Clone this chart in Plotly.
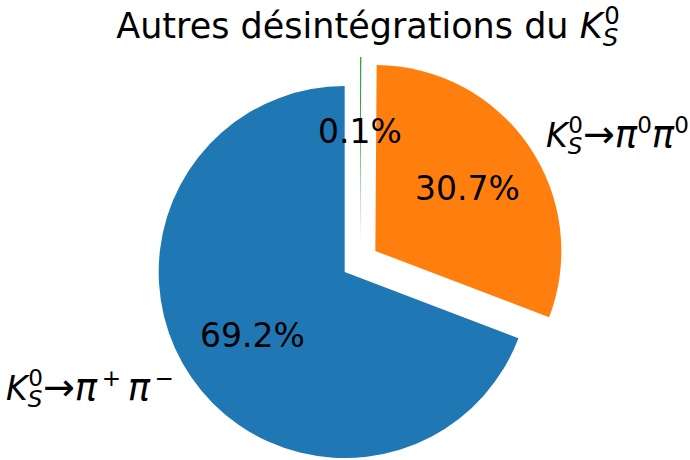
import math
import plotly.graph_objects as go

# ---- data ----
KS = ('<i>K</i><sub><span style="font-style:italic;letter-spacing:-14px">S</span></sub>'
      '<sup>0</sup>')
ARROW = '<span style="font-size:38px">→</span>'
PI = '<span style="font-style:italic;font-size:37px">π</span>'
slice_ids = ["pipm", "pi0pi0", "autres"]
slice_names = [
    KS + ARROW + PI + "<sup>\u2009+</sup>\u2009" + PI + "<sup>\u2009−</sup>",
    KS + ARROW + PI + "<sup>0</sup>" + PI + "<sup>0</sup>",
    "",
]
branching = [69.20, 30.69, 0.11]
explode = [0.1, 0.1, 0.1]
colors = ["#1f77b4", "#ff7f0e", "#2ca02c"]
title_text = "Autres désintégrations du " + KS

# ---- layout geometry (pixels) ----
W, H = 690, 460
CX, CY = 360.0, 261.5   # pie centre (px, from top)
R = 186.0               # pie radius (px)
START = 90.0            # start angle (deg, math convention), counterclockwise
PCTDIST, LABDIST = 0.6, 1.1
FONT = dict(family="DejaVu Sans", size=33, color="black")
TITLE_FONT = dict(family="DejaVu Sans", size=35, color="black")

total = sum(branching)
# plotly (counterclockwise mode) lays the first slice clockwise from `rotation`
first_span = 360.0 * branching[0] / total
rotation = (90.0 - START) + 360.0 - first_span

fig = go.Figure()
annotations = []
theta = START
for i, v in enumerate(branching):
    span = 360.0 * v / total
    tm = math.radians(theta + span / 2.0)
    theta += span
    vx = CX + explode[i] * R * math.cos(tm)
    vy = CY - explode[i] * R * math.sin(tm)
    fig.add_trace(go.Pie(
        labels=slice_ids,
        values=branching,
        sort=False,
        direction="counterclockwise",
        rotation=rotation,
        marker=dict(colors=[colors[j] if j == i else "rgba(0,0,0,0)" for j in range(len(branching))],
                    line=dict(width=0)),
        textinfo="none",
        hoverinfo="skip",
        showlegend=False,
        domain=dict(x=[(vx - R) / W, (vx + R) / W],
                    y=[(H - vy - R) / H, (H - vy + R) / H]),
    ))
    # percentage label
    px = vx + PCTDIST * R * math.cos(tm)
    py = vy - PCTDIST * R * math.sin(tm)
    annotations.append(dict(x=px / W, y=1 - py / H, xref="paper", yref="paper",
                            text=f"{100 * v / total:.1f}%", showarrow=False,
                            xanchor="center", yanchor="middle", font=FONT))
    if slice_names[i]:
        lx = vx + LABDIST * R * math.cos(tm)
        ly = vy - LABDIST * R * math.sin(tm)
        annotations.append(dict(x=lx / W, y=1 - ly / H, xref="paper", yref="paper",
                                text=slice_names[i], showarrow=False,
                                xanchor="right" if math.cos(tm) < 0 else "left",
                                yanchor="middle", font=FONT))

fig.update_layout(
    width=W, height=H,
    margin=dict(l=0, r=0, t=0, b=0),
    paper_bgcolor="white", plot_bgcolor="white",
    title=dict(text=title_text, x=368 / W, xanchor="center",
               y=1 - 26 / H, yanchor="middle", font=TITLE_FONT),
    annotations=annotations,
)

fig.write_html("out.html", config={"displayModeBar": False},
               post_script="document.body.style.margin='0px';")
